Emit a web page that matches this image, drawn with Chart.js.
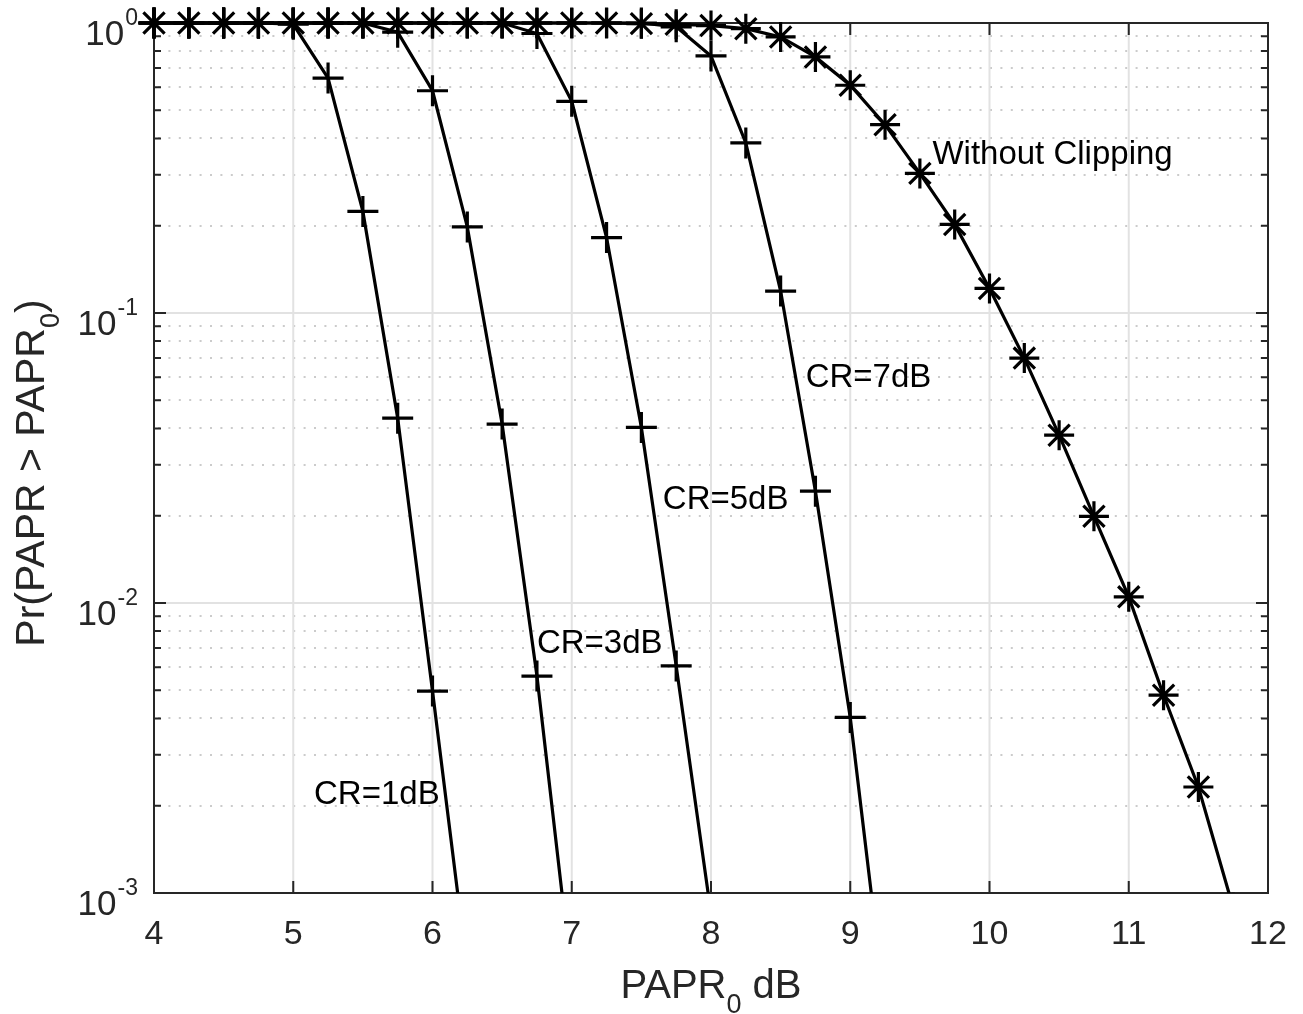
<!DOCTYPE html>
<html>
<head>
<meta charset="utf-8">
<script src="https://cdn.jsdelivr.net/npm/chart.js@4/dist/chart.umd.min.js"></script>
<style>
html, body { margin: 0; padding: 0; background: #ffffff; }
#wrap { width: 1303px; height: 1014px; }
</style>
</head>
<body>
<div id="wrap"><canvas id="c" width="1303" height="1014"></canvas></div>
<script>
// ---------------- data ----------------
const papr0 = [4.00, 4.25, 4.50, 4.75, 5.00, 5.25, 5.50, 5.75, 6.00, 6.25, 6.50, 6.75,
               7.00, 7.25, 7.50, 7.75, 8.00, 8.25, 8.50, 8.75, 9.00, 9.25, 9.50, 9.75,
               10.00, 10.25, 10.50, 10.75, 11.00, 11.25, 11.50, 11.75];

const withoutClipping = [1, 1, 1, 1, 1, 1, 1, 1, 1, 1, 1, 1,
                         1, 1, 0.995, 0.99, 0.98, 0.956, 0.895, 0.764, 0.61, 0.446, 0.303, 0.202,
                         0.1215, 0.0699, 0.0379, 0.0199, 0.0105, 0.00481, 0.00232, 0.00089];
const cr1dB = [1, 1, 1, 1, 0.99, 0.646, 0.224, 0.0434, 0.00497, 0.00054];
const cr3dB = [1, 1, 1, 1, 1, 1, 1, 0.93, 0.584, 0.198, 0.0414, 0.0056, 0.00051];
const cr5dB = [1, 1, 1, 1, 1, 1, 1, 1, 1, 1, 1, 0.92, 0.537, 0.182, 0.0403, 0.00607, 0.00085];
const cr7dB = [1, 1, 1, 1, 1, 1, 1, 1, 1, 1, 1, 1, 1, 1, 1, 0.97, 0.77, 0.386, 0.119, 0.0243, 0.00403, 0.0004];

const xTickValues = [4, 5, 6, 7, 8, 9, 10, 11, 12];
const yTickValues = [0.001, 0.01, 0.1, 1];
const yTickExponents = ['-3', '-2', '-1', '0'];

const annotationTexts = ['Without Clipping', 'CR=7dB', 'CR=5dB', 'CR=3dB', 'CR=1dB'];
const annotationX = [9.59, 8.68, 7.654, 6.75, 5.149];
const annotationY = [0.35, 0.0596, 0.0226, 0.00722, 0.00218];

const xTitleMain = 'PAPR', xTitleSub = '0', xTitleTail = ' dB';
const yTitleMain = 'Pr(PAPR > PAPR', yTitleSub = '0', yTitleTail = ')';

// ---------------- styling ----------------
const FONT = '"Liberation Sans", Arial, Helvetica, sans-serif';
const AXIS_COLOR = '#262626';

function pts(ys) { return ys.map((v, i) => ({ x: papr0[i], y: v })); }

const matlabAxes = {
  id: 'matlabAxes',
  beforeDatasetsDraw(chart) {
    const { ctx, chartArea: a, scales: { x, y } } = chart;
    ctx.save();
    // minor dotted grid (y only)
    ctx.strokeStyle = '#cbcbcb';
    ctx.lineWidth = 2;
    ctx.setLineDash([2, 8.4]);
    for (let d = 0; d < yTickValues.length - 1; d++) {
      for (let m = 2; m <= 9; m++) {
        const py = Math.round(y.getPixelForValue(yTickValues[d] * m));
        ctx.beginPath(); ctx.moveTo(a.left + 4, py); ctx.lineTo(a.right, py); ctx.stroke();
      }
    }
    // major grid
    ctx.setLineDash([]);
    ctx.strokeStyle = '#e2e2e2';
    ctx.lineWidth = 2;
    xTickValues.slice(1, -1).forEach(v => {
      const px = x.getPixelForValue(v);
      ctx.beginPath(); ctx.moveTo(px, a.top); ctx.lineTo(px, a.bottom); ctx.stroke();
    });
    yTickValues.slice(1, -1).forEach(v => {
      const py = y.getPixelForValue(v);
      ctx.beginPath(); ctx.moveTo(a.left, py); ctx.lineTo(a.right, py); ctx.stroke();
    });
    // frame
    ctx.strokeStyle = AXIS_COLOR;
    ctx.lineWidth = 2;
    ctx.strokeRect(a.left, a.top, a.right - a.left, a.bottom - a.top);
    // ticks
    const MAJ = 12, MIN = 7;
    ctx.beginPath();
    xTickValues.forEach(v => {
      const px = x.getPixelForValue(v);
      ctx.moveTo(px, a.bottom); ctx.lineTo(px, a.bottom - MAJ);
      ctx.moveTo(px, a.top); ctx.lineTo(px, a.top + MAJ);
    });
    yTickValues.forEach((v, d) => {
      const py = y.getPixelForValue(v);
      ctx.moveTo(a.left, py); ctx.lineTo(a.left + MAJ, py);
      ctx.moveTo(a.right, py); ctx.lineTo(a.right - MAJ, py);
      if (d < yTickValues.length - 1) {
        for (let m = 2; m <= 9; m++) {
          const pm = y.getPixelForValue(v * m);
          ctx.moveTo(a.left, pm); ctx.lineTo(a.left + MIN, pm);
          ctx.moveTo(a.right, pm); ctx.lineTo(a.right - MIN, pm);
        }
      }
    });
    ctx.stroke();

    // tick labels
    ctx.fillStyle = AXIS_COLOR;
    ctx.font = '34px ' + FONT;
    ctx.textAlign = 'center';
    ctx.textBaseline = 'alphabetic';
    xTickValues.forEach(v => {
      ctx.fillText(String(v), x.getPixelForValue(v), a.bottom + 51);
    });
    const rightEdge = a.left - 16;
    yTickValues.forEach((v, i) => {
      const py = y.getPixelForValue(v);
      ctx.font = '23px ' + FONT;
      ctx.textAlign = 'right';
      const supW = ctx.measureText(yTickExponents[i]).width;
      ctx.fillText(yTickExponents[i], rightEdge, py + 2);
      ctx.font = '35px ' + FONT;
      ctx.fillText('10', rightEdge - supW - 1, py + 22);
    });

    // x title
    ctx.textAlign = 'left';
    ctx.font = '40px ' + FONT;
    const w1 = ctx.measureText(xTitleMain).width;
    const w3 = ctx.measureText(xTitleTail).width;
    ctx.font = '27px ' + FONT;
    const w2 = ctx.measureText(xTitleSub).width;
    const cx = (a.left + a.right) / 2;
    const sx = cx - (w1 + w2 + w3) / 2;
    const xb = 998;
    ctx.font = '40px ' + FONT;
    ctx.fillText(xTitleMain, sx, xb);
    ctx.font = '27px ' + FONT;
    ctx.fillText(xTitleSub, sx + w1, xb + 15);
    ctx.font = '40px ' + FONT;
    ctx.fillText(xTitleTail, sx + w1 + w2, xb);

    // y title (rotated)
    ctx.save();
    const cy = 473;
    ctx.translate(44, cy);
    ctx.rotate(-Math.PI / 2);
    ctx.font = '41px ' + FONT;
    const v1 = ctx.measureText(yTitleMain).width;
    const v3 = ctx.measureText(yTitleTail).width;
    ctx.font = '27px ' + FONT;
    const v2 = ctx.measureText(yTitleSub).width;
    const sy = -(v1 + v2 + v3) / 2;
    ctx.font = '41px ' + FONT;
    ctx.fillText(yTitleMain, sy, 0);
    ctx.font = '27px ' + FONT;
    ctx.fillText(yTitleSub, sy + v1, 15);
    ctx.font = '41px ' + FONT;
    ctx.fillText(yTitleTail, sy + v1 + v2, 0);
    ctx.restore();

    ctx.restore();
  },
  afterDatasetsDraw(chart) {
    const { ctx, scales: { x, y } } = chart;
    ctx.save();
    ctx.fillStyle = '#000000';
    ctx.font = '33px ' + FONT;
    ctx.textAlign = 'left';
    ctx.textBaseline = 'middle';
    annotationTexts.forEach((t, i) => {
      ctx.fillText(t, x.getPixelForValue(annotationX[i]), y.getPixelForValue(annotationY[i]));
    });
    ctx.restore();
  }
};

const common = {
  borderColor: '#000000',
  borderWidth: 3.2,
  pointBorderColor: '#000000',
  pointBackgroundColor: 'rgba(0,0,0,0)',
  pointBorderWidth: 3.2,
  fill: false,
  tension: 0,
  clip: { left: false, top: false, right: false, bottom: 0 }
};

new Chart(document.getElementById('c'), {
  type: 'line',
  data: {
    datasets: [
      Object.assign({ label: 'Without Clipping', data: pts(withoutClipping), pointStyle: 'star', pointRadius: 15 }, common),
      Object.assign({ label: 'CR=1dB', data: pts(cr1dB), pointStyle: 'cross', pointRadius: 15.5 }, common),
      Object.assign({ label: 'CR=3dB', data: pts(cr3dB), pointStyle: 'cross', pointRadius: 15.5 }, common),
      Object.assign({ label: 'CR=5dB', data: pts(cr5dB), pointStyle: 'cross', pointRadius: 15.5 }, common),
      Object.assign({ label: 'CR=7dB', data: pts(cr7dB), pointStyle: 'cross', pointRadius: 15.5 }, common)
    ]
  },
  options: {
    responsive: false,
    animation: false,
    events: [],
    layout: { padding: { left: 154, top: 23, right: 35, bottom: 121 } },
    scales: {
      x: { type: 'linear', min: 4, max: 12, display: false },
      y: { type: 'logarithmic', min: 0.001, max: 1, display: false }
    },
    plugins: { legend: { display: false }, tooltip: { enabled: false } }
  },
  plugins: [matlabAxes]
});
</script>
</body>
</html>
